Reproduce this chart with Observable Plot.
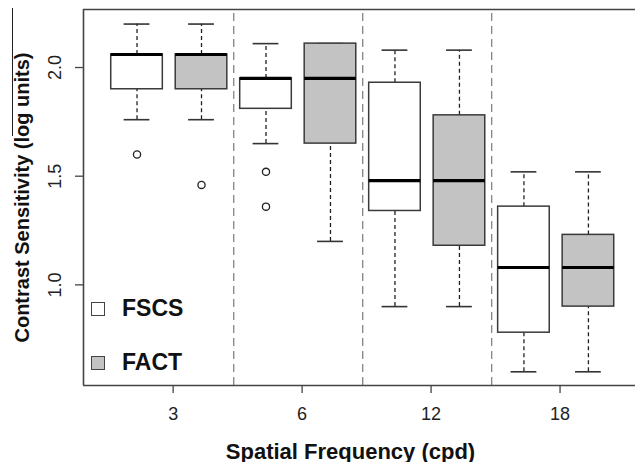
<!DOCTYPE html>
<html>
<head>
<meta charset="utf-8">
<script src="https://cdn.jsdelivr.net/npm/d3@7"></script>
<script src="https://cdn.jsdelivr.net/npm/@observablehq/plot@0.6"></script>
<style>
  html, body { margin: 0; padding: 0; background: #fff; }
  #wrap { position: relative; width: 635px; height: 462px; font-family: "Liberation Sans", Arial, sans-serif; }
  .leg { position: absolute; display: flex; align-items: center; font-weight: bold; font-size: 23px; color: #111; }
  .leg span.sw { display: inline-block; width: 12px; height: 12px; border: 1px solid #444; margin-right: 17px; }
  #artifact { position: absolute; left: 12px; top: 8px; width: 0; height: 128px; border-left: 1.5px solid #222; }
</style>
</head>
<body>
<div id="wrap"></div>
<script>
// ---- data ----
const freqs = ["3", "6", "12", "18"];
const groups = ["FSCS", "FACT"];
const upperWhisker = [2.20, 2.20, 2.11, 2.11, 2.08, 2.08, 1.52, 1.52];
const q3           = [2.06, 2.06, 1.95, 2.11, 1.93, 1.78, 1.36, 1.23];
const median       = [2.06, 2.06, 1.95, 1.95, 1.48, 1.48, 1.08, 1.08];
const q1           = [1.90, 1.90, 1.81, 1.65, 1.34, 1.18, 0.78, 0.90];
const lowerWhisker = [1.76, 1.76, 1.65, 1.20, 0.90, 0.90, 0.60, 0.60];
const outlierBox   = [1, 2, 3, 3];
const outlierValue = [1.60, 1.46, 1.52, 1.36];
const yTicks = [1.0, 1.5, 2.0];
const groupColors = ["#ffffff", "#c3c3c3"];

// ---- layout / scales ----
const xDomain = [0.17, 8.73];
const yDomain = [0.537, 2.267];
const tickPos = [1.56, 3.56, 5.56, 7.56];
const separators = [2.5, 4.5, 6.5];
const halfBox = 0.4, halfCap = 0.2;

const boxes = upperWhisker.map((_, i) => ({
  pos: i + 1,
  freq: freqs[Math.floor(i / 2)],
  group: groups[i % 2],
  hi: upperWhisker[i], q3: q3[i], med: median[i], q1: q1[i], lo: lowerWhisker[i]
}));
const outliers = outlierBox.map((b, i) => ({pos: b, v: outlierValue[i]}));

const axisColor = "#444";
const plot = Plot.plot({
  width: 635,
  height: 462,
  marginLeft: 83,
  marginRight: 0,
  marginTop: 9,
  marginBottom: 77,
  style: {fontFamily: "'Liberation Sans', Arial, sans-serif", background: "white", overflow: "visible"},
  x: {domain: xDomain, axis: null},
  y: {domain: yDomain, axis: null},
  marks: [
    // separators
    Plot.ruleX(separators, {y1: yDomain[0], y2: yDomain[1], stroke: "#7a7a7a", strokeWidth: 1.2, strokeDasharray: "8,5"}),
    // whiskers
    Plot.ruleX(boxes, {x: "pos", y1: "q3", y2: "hi", stroke: "#222", strokeWidth: 1.3, strokeDasharray: "4,3"}),
    Plot.ruleX(boxes, {x: "pos", y1: "lo", y2: "q1", stroke: "#222", strokeWidth: 1.3, strokeDasharray: "4,3"}),
    // caps
    Plot.ruleY(boxes, {y: "hi", x1: d => d.pos - halfCap, x2: d => d.pos + halfCap, stroke: "#333", strokeWidth: 1.6}),
    Plot.ruleY(boxes, {y: "lo", x1: d => d.pos - halfCap, x2: d => d.pos + halfCap, stroke: "#333", strokeWidth: 1.6}),
    // boxes
    Plot.rect(boxes, {x1: d => d.pos - halfBox, x2: d => d.pos + halfBox, y1: "q1", y2: "q3",
      fill: d => groupColors[groups.indexOf(d.group)], stroke: "#3a3a3a", strokeWidth: 1.5}),
    // medians
    Plot.ruleY(boxes, {y: "med", x1: d => d.pos - halfBox, x2: d => d.pos + halfBox, stroke: "#000", strokeWidth: 3.2}),
    // outliers
    Plot.dot(outliers, {x: "pos", y: "v", r: 3.6, stroke: "#222", strokeWidth: 1.3, fill: "white"}),
    // frame lines (left, top, bottom)
    Plot.ruleX([xDomain[0]], {y1: yDomain[0], y2: yDomain[1], stroke: axisColor, strokeWidth: 1.6}),
    Plot.ruleY([yDomain[0], yDomain[1]], {x1: xDomain[0], x2: xDomain[1], stroke: axisColor, strokeWidth: 1.6}),
    // axes ticks
    Plot.axisY({ticks: yTicks, tickSize: 8, tickFormat: () => "", label: null, stroke: axisColor, strokeWidth: 1.3}),
    Plot.axisX({ticks: tickPos, tickSize: 8, tickPadding: 14, fontSize: 18, fill: "#222",
      tickFormat: d => freqs[tickPos.indexOf(d)], label: null, stroke: axisColor, strokeWidth: 1.3}),
    // y tick labels (rotated)
    Plot.text(yTicks, {x: xDomain[0], y: d => d, text: d => d.toFixed(1), rotate: -90, dx: -28,
      fontSize: 18, fill: "#222", textAnchor: "middle", lineAnchor: "middle"}),
    // axis titles
    Plot.text(["Contrast Sensitivity (log units)"], {frameAnchor: "left", text: d => d, rotate: -90, dx: -61,
      fontSize: 20, fontWeight: "bold", fill: "#111", textAnchor: "middle", lineAnchor: "middle"}),
    Plot.text(["Spatial Frequency (cpd)"], {frameAnchor: "bottom", text: d => d, dx: -9, dy: 66,
      fontSize: 22, fontWeight: "bold", fill: "#111", textAnchor: "middle", lineAnchor: "middle"})
  ]
});

const wrap = document.getElementById("wrap");
wrap.appendChild(plot);

// legend
const legendTops = [295, 349];
groups.forEach((g, i) => {
  const d = document.createElement("div");
  d.className = "leg";
  d.style.left = "91px";
  d.style.top = legendTops[i] + "px";
  d.innerHTML = `<span class="sw" style="background:${groupColors[i]}"></span>${g}`;
  wrap.appendChild(d);
});
const art = document.createElement("div");
art.id = "artifact";
wrap.appendChild(art);
</script>
</body>
</html>
